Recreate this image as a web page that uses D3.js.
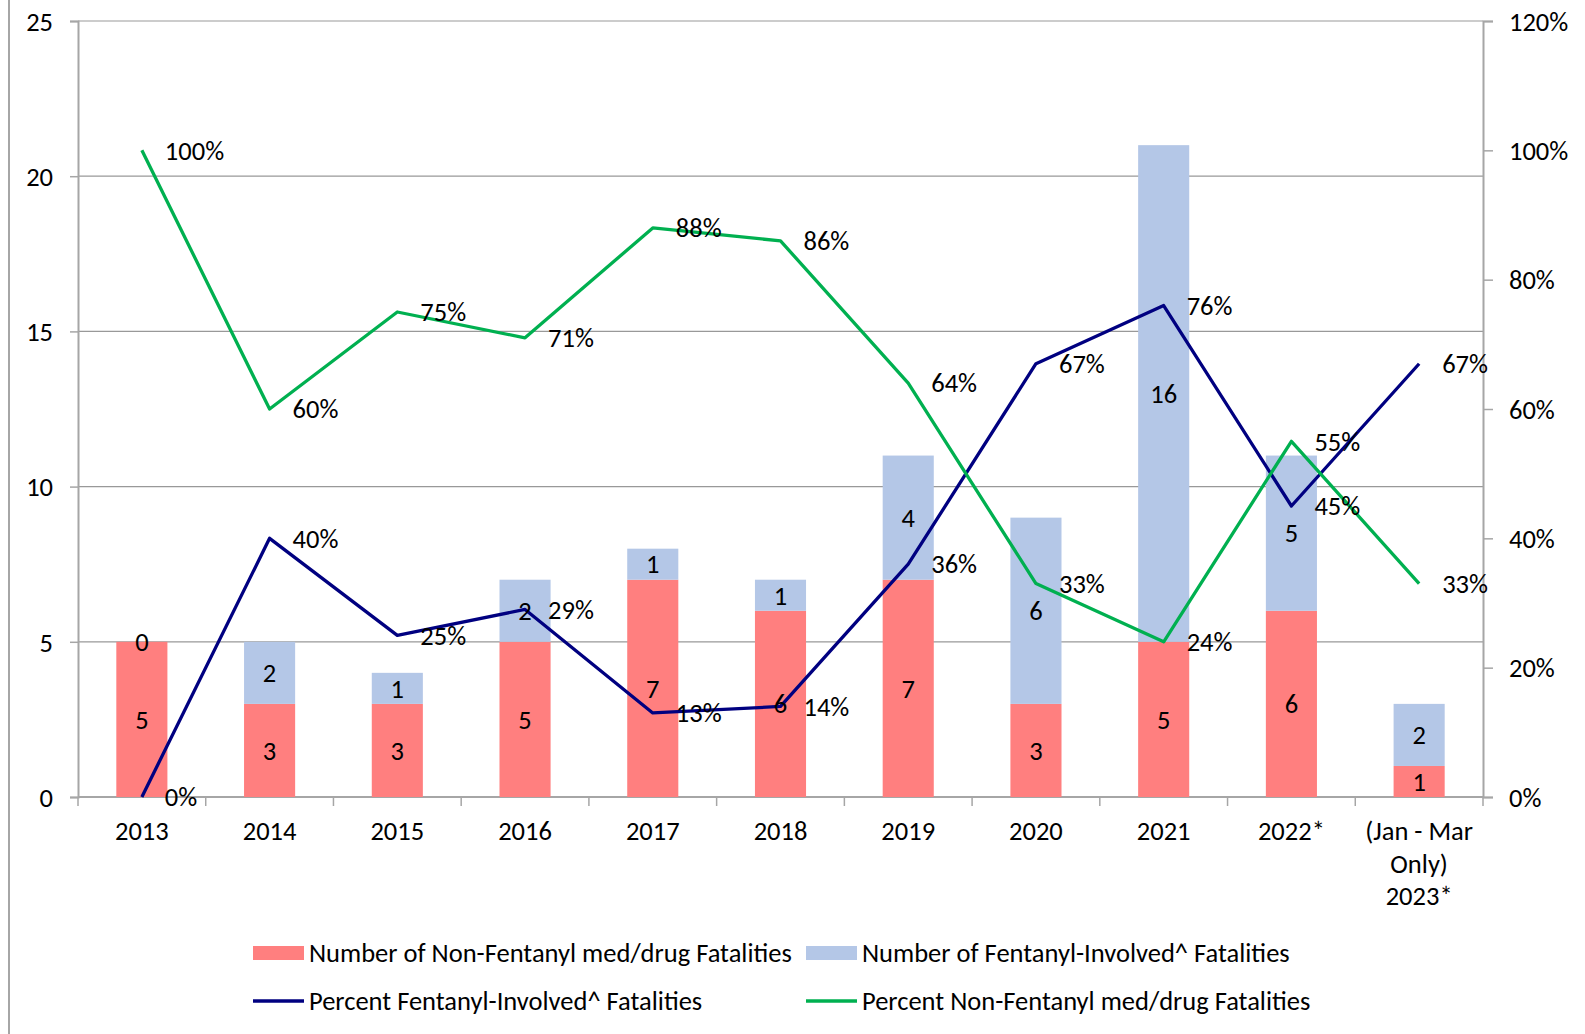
<html>
<head>
<script src="https://d3js.org/d3.v7.min.js"></script>
<style>
  body { margin: 0; background: #fff; }
  svg text { font-family: Carlito, Lato, sans-serif; font-size: 26.5px; fill: #000; }
</style>
</head>
<body onload='init()'>
<svg width=1585 height=1034></svg>
<script>
// chart data
var categories = ["2013", "2014", "2015", "2016", "2017", "2018", "2019", "2020", "2021", "2022*", "(Jan - Mar\nOnly)\n2023*"];
var nonFentanyl = [5, 3, 3, 5, 7, 6, 7, 3, 5, 6, 1];
var fentanyl = [0, 2, 1, 2, 1, 1, 4, 6, 16, 5, 2];
var pctFentanyl = [0, 40, 25, 29, 13, 14, 36, 67, 76, 45, 67];
var pctNonFentanyl = [100, 60, 75, 71, 88, 86, 64, 33, 24, 55, 33];
var countTicks = [0, 5, 10, 15, 20, 25];
var pctTicks = [0, 20, 40, 60, 80, 100, 120];

function init() {
  var svg = d3.select("svg");
  var left = 78, right = 1483, top = 21, bottom = 797;
  var grey = "#a6a6a6";

  var x = d3.scaleBand().domain(categories).range([left, right]).padding(0);
  var y = d3.scaleLinear().domain([0, 25]).range([bottom, top]);
  var y2 = d3.scaleLinear().domain([0, 120]).range([bottom, top]);
  var barW = x.bandwidth() * 0.4;

  // border line on the far left
  svg.append("line").attr("x1", 9).attr("x2", 9).attr("y1", 0).attr("y2", 1034)
    .attr("stroke", grey).attr("stroke-width", 2);

  // gridlines
  svg.append("g").selectAll("line").data(countTicks.slice(1)).enter().append("line")
    .attr("x1", left).attr("x2", right)
    .attr("y1", function(d) { return y(d); }).attr("y2", function(d) { return y(d); })
    .attr("stroke", "#999").attr("stroke-width", 1.2);

  // left axis
  var ax = svg.append("g").attr("transform", "translate(" + left + ",0)")
    .call(d3.axisLeft(y).tickValues(countTicks).tickSize(8).tickPadding(17));
  // right axis
  var ax2 = svg.append("g").attr("transform", "translate(" + right + ",0)")
    .call(d3.axisRight(y2).tickValues(pctTicks).tickSize(10).tickPadding(16)
      .tickFormat(function(d) { return d + "%"; }));
  [ax, ax2].forEach(function(a) {
    a.select(".domain").attr("stroke", grey).attr("stroke-width", 2);
    a.selectAll(".tick line").attr("stroke", grey).attr("stroke-width", 1.5);
    a.selectAll("text").attr("font-size", null).attr("font-family", null).attr("dy", "0.35em");
    a.attr("font-size", null).attr("font-family", null);
  });

  // bottom axis line and boundary ticks
  svg.append("line").attr("x1", left).attr("x2", right).attr("y1", bottom).attr("y2", bottom)
    .attr("stroke", grey).attr("stroke-width", 2);
  var bounds = categories.map(function(c) { return x(c); }).concat([right]);
  svg.append("g").selectAll("line").data(bounds).enter().append("line")
    .attr("x1", function(d) { return d; }).attr("x2", function(d) { return d; })
    .attr("y1", bottom).attr("y2", bottom + 9)
    .attr("stroke", grey).attr("stroke-width", 1.5);

  // category labels
  svg.append("g").selectAll("text").data(categories).enter().append("text")
    .attr("text-anchor", "middle")
    .attr("x", function(d) { return x(d) + x.bandwidth() / 2; })
    .attr("y", 831)
    .each(function(d) {
      var t = d3.select(this);
      d.split("\n").forEach(function(s, i) {
        t.append("tspan").attr("x", x(d) + x.bandwidth() / 2)
          .attr("dy", i == 0 ? "0.35em" : 32.5).text(s);
      });
    });

  // stacked bars
  var bars = svg.append("g");
  categories.forEach(function(c, i) {
    var cx = x(c) + x.bandwidth() / 2;
    bars.append("rect").attr("x", cx - barW / 2).attr("width", barW)
      .attr("y", y(nonFentanyl[i])).attr("height", y(0) - y(nonFentanyl[i]))
      .attr("fill", "#ff7f7f");
    bars.append("rect").attr("x", cx - barW / 2).attr("width", barW)
      .attr("y", y(nonFentanyl[i] + fentanyl[i])).attr("height", y(nonFentanyl[i]) - y(nonFentanyl[i] + fentanyl[i]))
      .attr("fill", "#b4c7e7");
  });

  // percent lines
  var line = function(vals) {
    return d3.line()
      .x(function(d, i) { return x(categories[i]) + x.bandwidth() / 2; })
      .y(function(d) { return y2(d); })(vals);
  };
  svg.append("path").attr("d", line(pctFentanyl)).attr("fill", "none")
    .attr("stroke", "#000080").attr("stroke-width", 3.3).attr("stroke-linejoin", "round");
  svg.append("path").attr("d", line(pctNonFentanyl)).attr("fill", "none")
    .attr("stroke", "#00b050").attr("stroke-width", 3.3).attr("stroke-linejoin", "round");

  // bar labels
  var labels = svg.append("g");
  categories.forEach(function(c, i) {
    var cx = x(c) + x.bandwidth() / 2;
    labels.append("text").attr("x", cx).attr("y", y(nonFentanyl[i] / 2)).attr("dy", "0.35em")
      .attr("text-anchor", "middle").text(nonFentanyl[i]);
    labels.append("text").attr("x", cx).attr("y", y(nonFentanyl[i] + fentanyl[i] / 2)).attr("dy", "0.35em")
      .attr("text-anchor", "middle").text(fentanyl[i]);
  });
  // line labels, right of each point
  [pctFentanyl, pctNonFentanyl].forEach(function(vals) {
    vals.forEach(function(v, i) {
      labels.append("text").attr("x", x(categories[i]) + x.bandwidth() / 2 + 23)
        .attr("y", y2(v)).attr("dy", "0.35em").text(v + "%");
    });
  });

  // legend
  var lg = svg.append("g");
  var items = [
    { kind: "rect", color: "#ff7f7f", text: "Number of Non-Fentanyl med/drug Fatalities", x: 253, y: 953 },
    { kind: "rect", color: "#b4c7e7", text: "Number of Fentanyl-Involved^ Fatalities", x: 806, y: 953 },
    { kind: "line", color: "#000080", text: "Percent Fentanyl-Involved^ Fatalities", x: 253, y: 1001 },
    { kind: "line", color: "#00b050", text: "Percent Non-Fentanyl med/drug Fatalities", x: 806, y: 1001 }
  ];
  items.forEach(function(it) {
    if (it.kind == "rect") {
      lg.append("rect").attr("x", it.x).attr("y", it.y - 7).attr("width", 51).attr("height", 14).attr("fill", it.color);
    } else {
      lg.append("line").attr("x1", it.x).attr("x2", it.x + 51).attr("y1", it.y).attr("y2", it.y)
        .attr("stroke", it.color).attr("stroke-width", 3.3);
    }
    lg.append("text").attr("x", it.x + 56).attr("y", it.y).attr("dy", "0.35em").text(it.text);
  });
}
</script>
</body>
</html>
